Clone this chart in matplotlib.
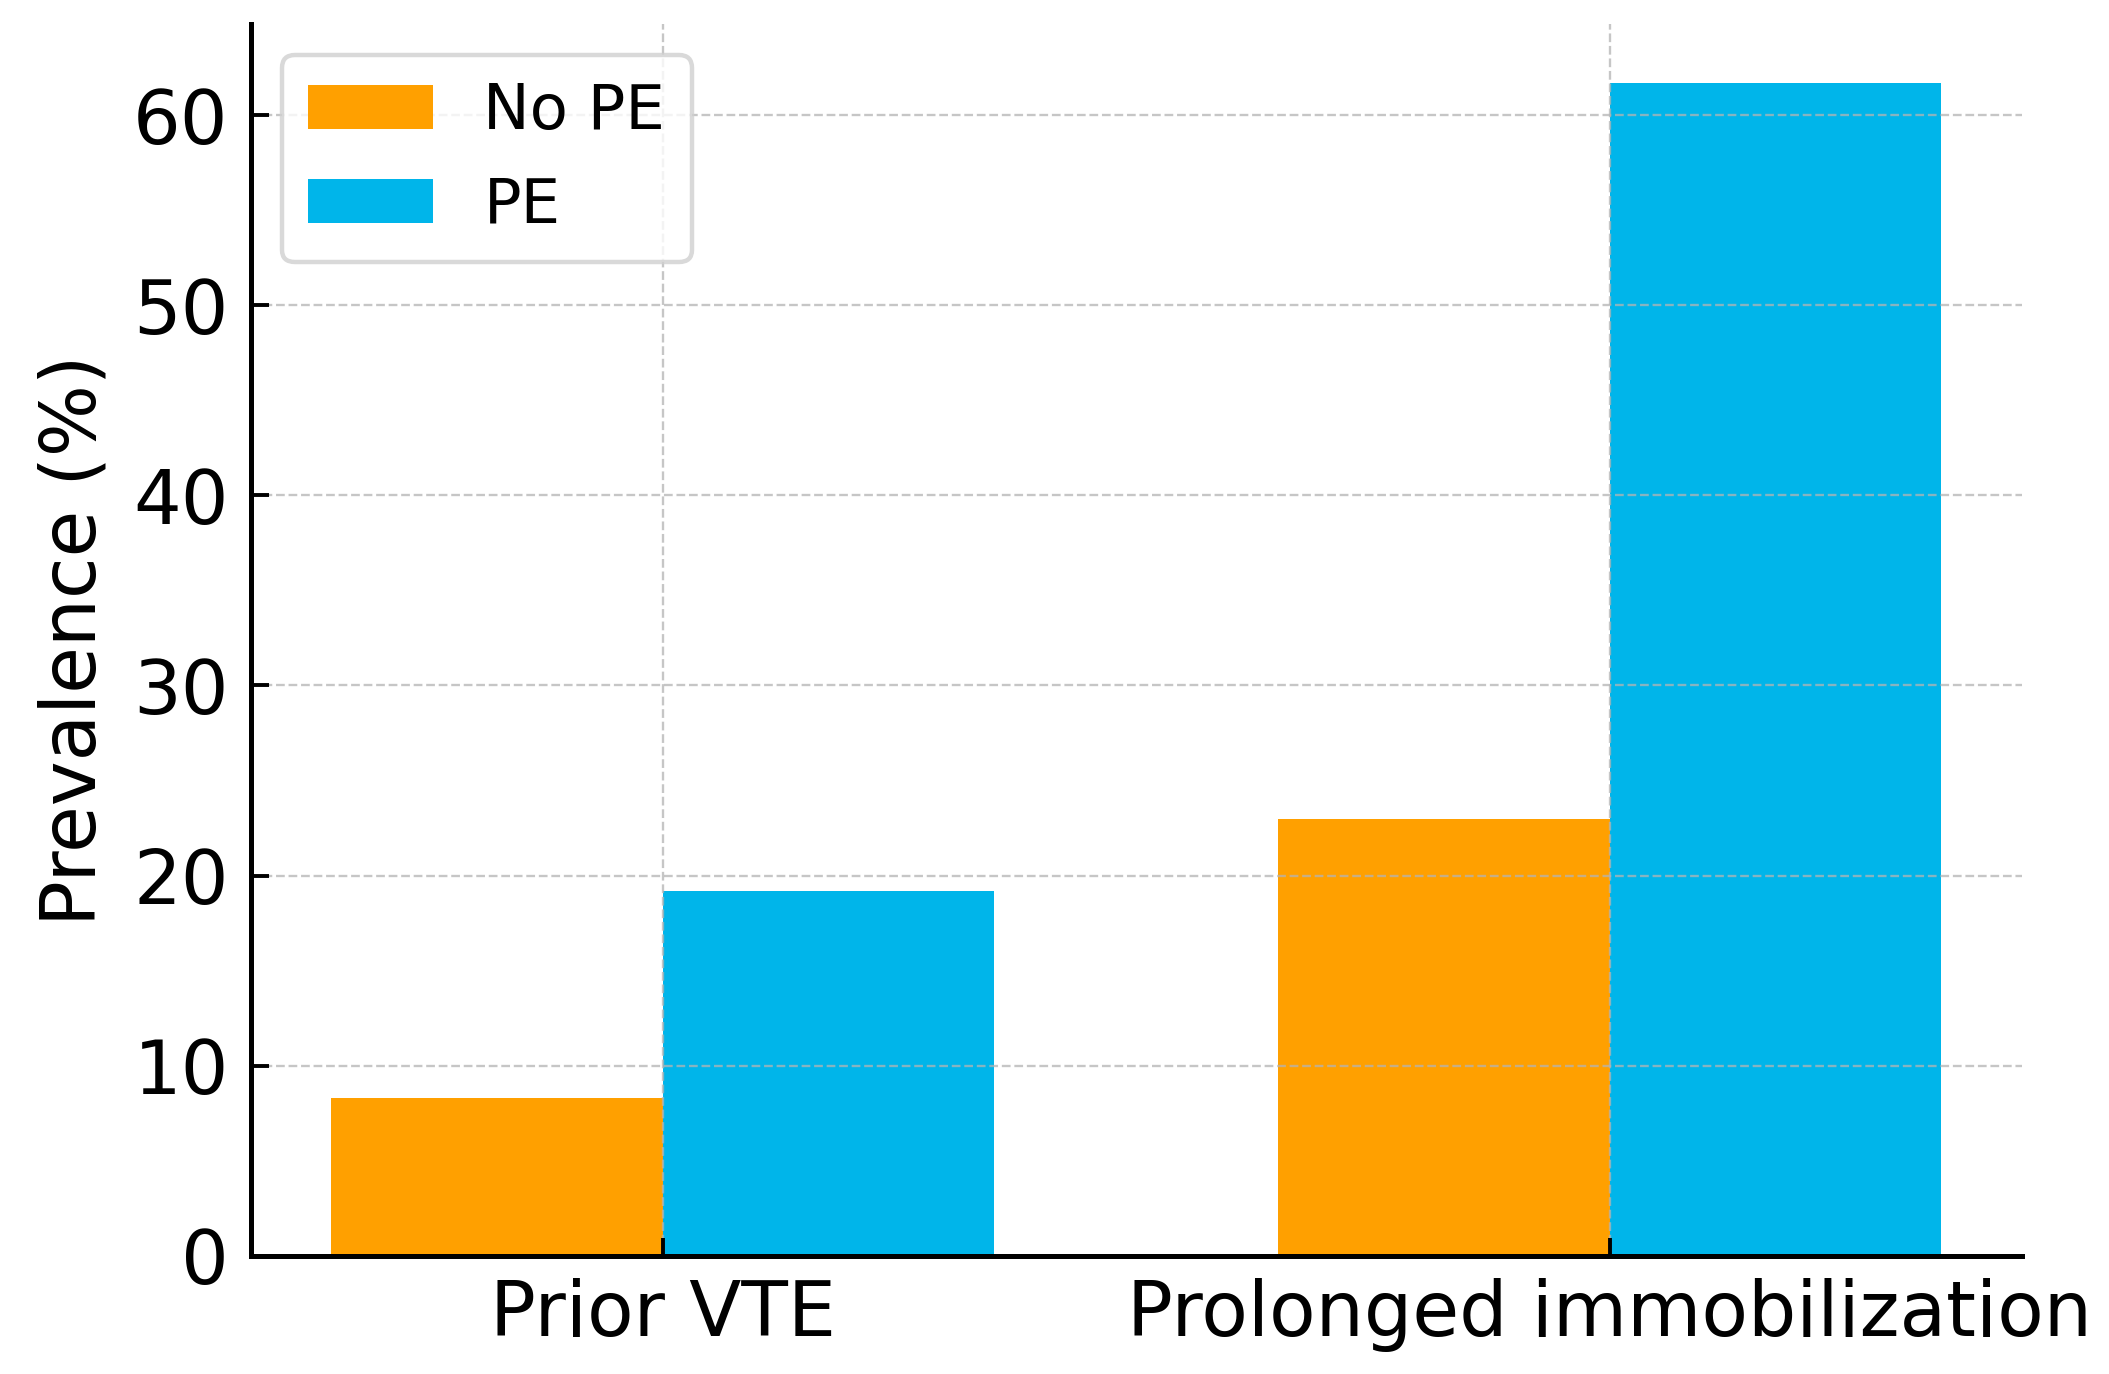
import matplotlib
matplotlib.use("Agg")
import matplotlib.pyplot as plt
import numpy as np

categories = ["Prior VTE", "Prolonged immobilization"]
no_pe = [8.3, 23.0]
pe = [19.2, 61.7]
series_labels = ["No PE", "PE"]
colors = ["#FFA000", "#00B5EA"]

plt.rcParams['font.family'] = ['DejaVu Sans']
fig = plt.figure(figsize=(10.545, 6.87), dpi=200)
ax = fig.add_axes([0.119, 0.086, 0.8396, 0.8965])

x = np.arange(len(categories))
w = 0.35
ax.bar(x - w/2, no_pe, w, color=colors[0], label=series_labels[0], zorder=1)
ax.bar(x + w/2, pe, w, color=colors[1], label=series_labels[1], zorder=1)

ax.set_xticks(x)
ax.set_xticklabels(categories)
ax.set_ylabel("Prevalence (%)", fontsize=27.3, labelpad=8)
ax.tick_params(axis='both', labelsize=27, width=1.4, length=6.5, color='black',
               direction='in', zorder=5)
ax.tick_params(axis='x', pad=8, labelsize=27.4)
ax.tick_params(axis='y', pad=8)

for s in ['top', 'right']:
    ax.spines[s].set_visible(False)
for s in ['left', 'bottom']:
    ax.spines[s].set_linewidth(1.8)
    ax.spines[s].set_color('black')
    ax.spines[s].set_zorder(6)

ax.grid(True, linestyle='--', color='#b4b4b4', linewidth=0.85, alpha=0.75, zorder=3)
ax.set_axisbelow(False)

leg = ax.legend(loc='upper left', fontsize=22.5, frameon=True, fancybox=True,
                borderpad=0.42, labelspacing=0.55, handlelength=2.0, handletextpad=0.8,
                bbox_to_anchor=(0.0, 1.0), borderaxespad=0.5)
leg.get_frame().set_edgecolor('#d0d0d0')
leg.get_frame().set_linewidth(1.6)

fig.savefig("out.png", dpi=200)
